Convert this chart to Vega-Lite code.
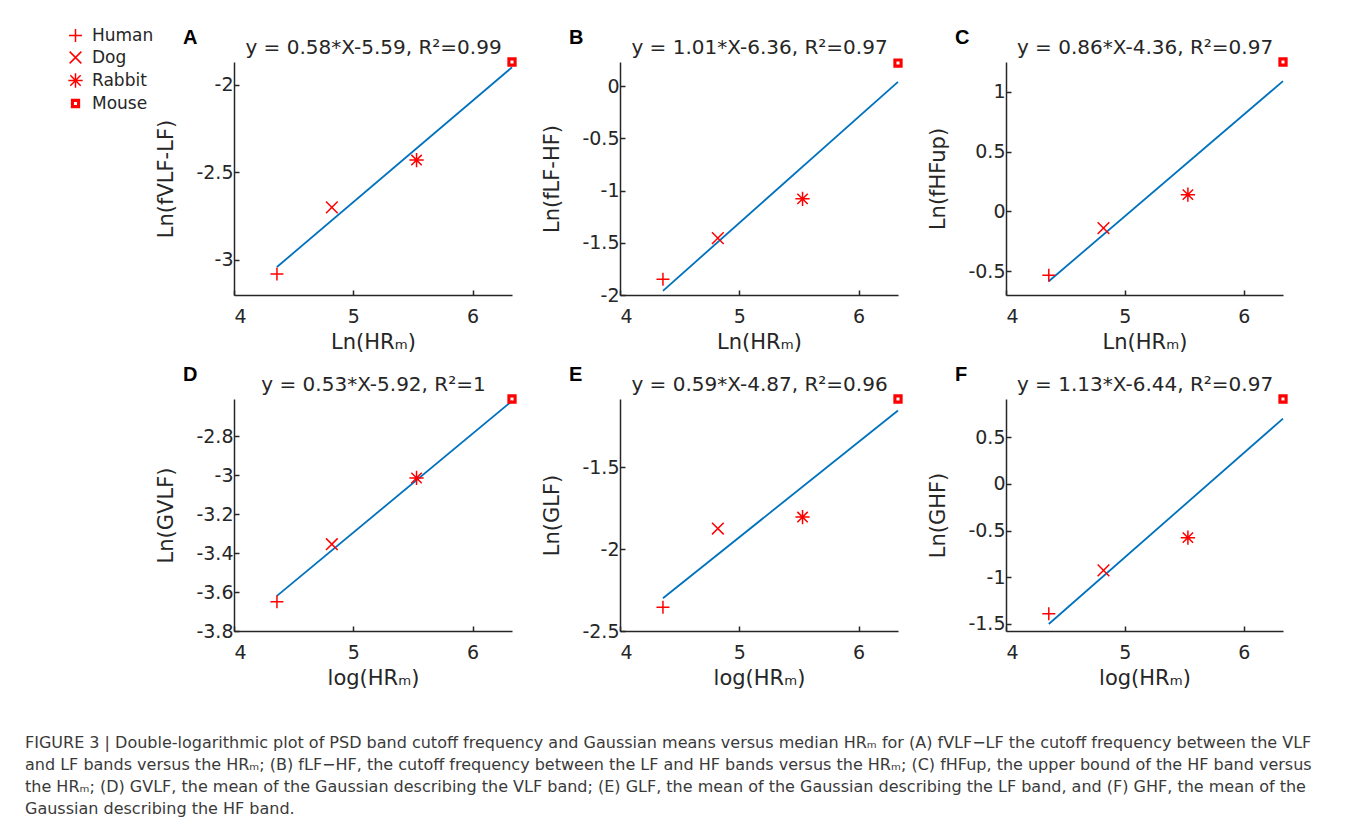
{
  "$schema": "https://vega.github.io/schema/vega-lite/v6.json",
  "background": "white",
  "padding": {"left": 25, "top": 27, "right": 5, "bottom": 5},
  "datasets": {
    "points": [
      {"panel": "A", "species": "Human", "x": 4.36, "y": -3.08},
      {"panel": "A", "species": "Dog", "x": 4.82, "y": -2.70},
      {"panel": "A", "species": "Rabbit", "x": 5.53, "y": -2.43},
      {"panel": "A", "species": "Mouse", "x": 6.33, "y": -1.87},
      {"panel": "B", "species": "Human", "x": 4.36, "y": -1.85},
      {"panel": "B", "species": "Dog", "x": 4.82, "y": -1.455},
      {"panel": "B", "species": "Rabbit", "x": 5.53, "y": -1.08},
      {"panel": "B", "species": "Mouse", "x": 6.33, "y": 0.22},
      {"panel": "C", "species": "Human", "x": 4.36, "y": -0.535},
      {"panel": "C", "species": "Dog", "x": 4.82, "y": -0.14},
      {"panel": "C", "species": "Rabbit", "x": 5.53, "y": 0.14},
      {"panel": "C", "species": "Mouse", "x": 6.33, "y": 1.25},
      {"panel": "D", "species": "Human", "x": 4.36, "y": -3.65},
      {"panel": "D", "species": "Dog", "x": 4.82, "y": -3.355},
      {"panel": "D", "species": "Rabbit", "x": 5.53, "y": -3.015},
      {"panel": "D", "species": "Mouse", "x": 6.33, "y": -2.61},
      {"panel": "E", "species": "Human", "x": 4.36, "y": -2.355},
      {"panel": "E", "species": "Dog", "x": 4.82, "y": -1.875},
      {"panel": "E", "species": "Rabbit", "x": 5.53, "y": -1.805},
      {"panel": "E", "species": "Mouse", "x": 6.33, "y": -1.085},
      {"panel": "F", "species": "Human", "x": 4.36, "y": -1.39},
      {"panel": "F", "species": "Dog", "x": 4.82, "y": -0.925},
      {"panel": "F", "species": "Rabbit", "x": 5.53, "y": -0.575},
      {"panel": "F", "species": "Mouse", "x": 6.33, "y": 0.91}
    ],
    "fits": [
      {"panel": "A", "x": 4.36, "y": -3.04},
      {"panel": "A", "x": 6.33, "y": -1.90},
      {"panel": "B", "x": 4.36, "y": -1.96},
      {"panel": "B", "x": 6.33, "y": 0.04},
      {"panel": "C", "x": 4.36, "y": -0.585},
      {"panel": "C", "x": 6.33, "y": 1.09},
      {"panel": "D", "x": 4.36, "y": -3.62},
      {"panel": "D", "x": 6.33, "y": -2.62},
      {"panel": "E", "x": 4.36, "y": -2.30},
      {"panel": "E", "x": 6.33, "y": -1.155},
      {"panel": "F", "x": 4.36, "y": -1.50},
      {"panel": "F", "x": 6.33, "y": 0.70}
    ]
  },
  "title": {
    "text": [
      "FIGURE 3 | Double-logarithmic plot of PSD band cutoff frequency and Gaussian means versus median HRₘ for (A) fVLF−LF the cutoff frequency between the VLF",
      "and LF bands versus the HRₘ; (B) fLF−HF, the cutoff frequency between the LF and HF bands versus the HRₘ; (C) fHFup, the upper bound of the HF band versus",
      "the HRₘ; (D) GVLF, the mean of the Gaussian describing the VLF band; (E) GLF, the mean of the Gaussian describing the LF band, and (F) GHF, the mean of the",
      "Gaussian describing the HF band."
    ],
    "orient": "bottom",
    "anchor": "start",
    "frame": "bounds",
    "font": "DejaVu Sans",
    "fontSize": 16,
    "fontWeight": "normal",
    "color": "#3a3a3a",
    "lineHeight": 22,
    "offset": 47,
    "dx": -42,
    "dy": 0,
    "baseline": "top"
  },
  "columns": 3,
  "spacing": {"row": 104, "column": 108},
  "bounds": "flush",
  "concat": [
    {
      "width": 278, "height": 233,
      "title": {"text": "A"},
      "resolve": {"axis": {"x": "independent"}},
      "layer": [
        {"data": {"name": "fits"}, "transform": [{"filter": "datum.panel === 'A'"}],
         "mark": {"type": "line", "color": "#0072BD", "strokeWidth": 1.8},
         "encoding": {
           "x": {"field": "x", "type": "quantitative", "scale": {"domain": [4, 6.33], "nice": false, "zero": false}, "axis": {"values": [4, 5, 6], "title": "Ln(HRₘ)"}},
           "y": {"field": "y", "type": "quantitative", "scale": {"domain": [-3.2, -1.87], "nice": false, "zero": false}, "axis": {"values": [-3, -2.5, -2], "title": "Ln(fVLF-LF)"}}
         }},
        {"data": {"name": "points"}, "transform": [{"filter": "datum.panel === 'A'"}],
         "mark": {"type": "point", "filled": false, "color": "#ff0000", "strokeWidth": 1.5, "size": 169, "opacity": 1},
         "encoding": {
           "x": {"field": "x", "type": "quantitative", "axis": {"orient": "top", "title": "y = 0.58*X-5.59, R²=0.99", "labels": false, "ticks": false, "domain": false, "titleFontSize": 20, "titlePadding": 5}},
           "y": {"field": "y", "type": "quantitative"},
           "shape": {"field": "species", "type": "nominal",
             "scale": {"domain": ["Human", "Dog", "Rabbit", "Mouse"], "range": ["M-1,0L1,0M0,-1L0,1", "M-0.9,-0.9L0.9,0.9M-0.9,0.9L0.9,-0.9", "M-1.1,0L1.1,0M0,-1.1L0,1.1M-0.8,-0.8L0.8,0.8M-0.8,0.8L0.8,-0.8", "M-0.6,-0.6L0.6,-0.6L0.6,0.6L-0.6,0.6ZM-0.47,-0.47L0.47,-0.47L0.47,0.47L-0.47,0.47ZM-0.35,-0.35L0.35,-0.35L0.35,0.35L-0.35,0.35Z"]},
             "legend": {"orient": "none", "legendX": -167, "legendY": -35, "title": null, "labelFont": "DejaVu Sans", "labelFontSize": 17, "labelColor": "#262626", "symbolSize": 169, "symbolStrokeWidth": 1.5, "symbolStrokeColor": "#ff0000", "rowPadding": 3, "labelOffset": 8, "padding": 0}}
         }}
      ]
    },
    {
      "width": 278, "height": 233,
      "title": {"text": "B"},
      "resolve": {"axis": {"x": "independent"}},
      "layer": [
        {"data": {"name": "fits"}, "transform": [{"filter": "datum.panel === 'B'"}],
         "mark": {"type": "line", "color": "#0072BD", "strokeWidth": 1.8},
         "encoding": {
           "x": {"field": "x", "type": "quantitative", "scale": {"domain": [4, 6.33], "nice": false, "zero": false}, "axis": {"values": [4, 5, 6], "title": "Ln(HRₘ)"}},
           "y": {"field": "y", "type": "quantitative", "scale": {"domain": [-2, 0.23], "nice": false, "zero": false}, "axis": {"values": [-2, -1.5, -1, -0.5, 0], "title": "Ln(fLF-HF)"}}
         }},
        {"data": {"name": "points"}, "transform": [{"filter": "datum.panel === 'B'"}],
         "mark": {"type": "point", "filled": false, "color": "#ff0000", "strokeWidth": 1.5, "size": 169, "opacity": 1},
         "encoding": {
           "x": {"field": "x", "type": "quantitative", "axis": {"orient": "top", "title": "y = 1.01*X-6.36, R²=0.97", "labels": false, "ticks": false, "domain": false, "titleFontSize": 20, "titlePadding": 5}},
           "y": {"field": "y", "type": "quantitative"},
           "shape": {"field": "species", "type": "nominal",
             "scale": {"domain": ["Human", "Dog", "Rabbit", "Mouse"], "range": ["M-1,0L1,0M0,-1L0,1", "M-0.9,-0.9L0.9,0.9M-0.9,0.9L0.9,-0.9", "M-1.1,0L1.1,0M0,-1.1L0,1.1M-0.8,-0.8L0.8,0.8M-0.8,0.8L0.8,-0.8", "M-0.6,-0.6L0.6,-0.6L0.6,0.6L-0.6,0.6ZM-0.47,-0.47L0.47,-0.47L0.47,0.47L-0.47,0.47ZM-0.35,-0.35L0.35,-0.35L0.35,0.35L-0.35,0.35Z"]}}
         }}
      ]
    },
    {
      "width": 277, "height": 233,
      "title": {"text": "C"},
      "resolve": {"axis": {"x": "independent"}},
      "layer": [
        {"data": {"name": "fits"}, "transform": [{"filter": "datum.panel === 'C'"}],
         "mark": {"type": "line", "color": "#0072BD", "strokeWidth": 1.8},
         "encoding": {
           "x": {"field": "x", "type": "quantitative", "scale": {"domain": [4, 6.33], "nice": false, "zero": false}, "axis": {"values": [4, 5, 6], "title": "Ln(HRₘ)"}},
           "y": {"field": "y", "type": "quantitative", "scale": {"domain": [-0.7, 1.25], "nice": false, "zero": false}, "axis": {"values": [-0.5, 0, 0.5, 1], "title": "Ln(fHFup)"}}
         }},
        {"data": {"name": "points"}, "transform": [{"filter": "datum.panel === 'C'"}],
         "mark": {"type": "point", "filled": false, "color": "#ff0000", "strokeWidth": 1.5, "size": 169, "opacity": 1},
         "encoding": {
           "x": {"field": "x", "type": "quantitative", "axis": {"orient": "top", "title": "y = 0.86*X-4.36, R²=0.97", "labels": false, "ticks": false, "domain": false, "titleFontSize": 20, "titlePadding": 5}},
           "y": {"field": "y", "type": "quantitative"},
           "shape": {"field": "species", "type": "nominal",
             "scale": {"domain": ["Human", "Dog", "Rabbit", "Mouse"], "range": ["M-1,0L1,0M0,-1L0,1", "M-0.9,-0.9L0.9,0.9M-0.9,0.9L0.9,-0.9", "M-1.1,0L1.1,0M0,-1.1L0,1.1M-0.8,-0.8L0.8,0.8M-0.8,0.8L0.8,-0.8", "M-0.6,-0.6L0.6,-0.6L0.6,0.6L-0.6,0.6ZM-0.47,-0.47L0.47,-0.47L0.47,0.47L-0.47,0.47ZM-0.35,-0.35L0.35,-0.35L0.35,0.35L-0.35,0.35Z"]}}
         }}
      ]
    },
    {
      "width": 278, "height": 232,
      "title": {"text": "D"},
      "resolve": {"axis": {"x": "independent"}},
      "layer": [
        {"data": {"name": "fits"}, "transform": [{"filter": "datum.panel === 'D'"}],
         "mark": {"type": "line", "color": "#0072BD", "strokeWidth": 1.8},
         "encoding": {
           "x": {"field": "x", "type": "quantitative", "scale": {"domain": [4, 6.33], "nice": false, "zero": false}, "axis": {"values": [4, 5, 6], "title": "log(HRₘ)"}},
           "y": {"field": "y", "type": "quantitative", "scale": {"domain": [-3.8, -2.61], "nice": false, "zero": false}, "axis": {"values": [-3.8, -3.6, -3.4, -3.2, -3, -2.8], "title": "Ln(GVLF)"}}
         }},
        {"data": {"name": "points"}, "transform": [{"filter": "datum.panel === 'D'"}],
         "mark": {"type": "point", "filled": false, "color": "#ff0000", "strokeWidth": 1.5, "size": 169, "opacity": 1},
         "encoding": {
           "x": {"field": "x", "type": "quantitative", "axis": {"orient": "top", "title": "y = 0.53*X-5.92, R²=1", "labels": false, "ticks": false, "domain": false, "titleFontSize": 20, "titlePadding": 5}},
           "y": {"field": "y", "type": "quantitative"},
           "shape": {"field": "species", "type": "nominal",
             "scale": {"domain": ["Human", "Dog", "Rabbit", "Mouse"], "range": ["M-1,0L1,0M0,-1L0,1", "M-0.9,-0.9L0.9,0.9M-0.9,0.9L0.9,-0.9", "M-1.1,0L1.1,0M0,-1.1L0,1.1M-0.8,-0.8L0.8,0.8M-0.8,0.8L0.8,-0.8", "M-0.6,-0.6L0.6,-0.6L0.6,0.6L-0.6,0.6ZM-0.47,-0.47L0.47,-0.47L0.47,0.47L-0.47,0.47ZM-0.35,-0.35L0.35,-0.35L0.35,0.35L-0.35,0.35Z"]}}
         }}
      ]
    },
    {
      "width": 278, "height": 232,
      "title": {"text": "E"},
      "resolve": {"axis": {"x": "independent"}},
      "layer": [
        {"data": {"name": "fits"}, "transform": [{"filter": "datum.panel === 'E'"}],
         "mark": {"type": "line", "color": "#0072BD", "strokeWidth": 1.8},
         "encoding": {
           "x": {"field": "x", "type": "quantitative", "scale": {"domain": [4, 6.33], "nice": false, "zero": false}, "axis": {"values": [4, 5, 6], "title": "log(HRₘ)"}},
           "y": {"field": "y", "type": "quantitative", "scale": {"domain": [-2.5, -1.085], "nice": false, "zero": false}, "axis": {"values": [-2.5, -2, -1.5], "title": "Ln(GLF)"}}
         }},
        {"data": {"name": "points"}, "transform": [{"filter": "datum.panel === 'E'"}],
         "mark": {"type": "point", "filled": false, "color": "#ff0000", "strokeWidth": 1.5, "size": 169, "opacity": 1},
         "encoding": {
           "x": {"field": "x", "type": "quantitative", "axis": {"orient": "top", "title": "y = 0.59*X-4.87, R²=0.96", "labels": false, "ticks": false, "domain": false, "titleFontSize": 20, "titlePadding": 5}},
           "y": {"field": "y", "type": "quantitative"},
           "shape": {"field": "species", "type": "nominal",
             "scale": {"domain": ["Human", "Dog", "Rabbit", "Mouse"], "range": ["M-1,0L1,0M0,-1L0,1", "M-0.9,-0.9L0.9,0.9M-0.9,0.9L0.9,-0.9", "M-1.1,0L1.1,0M0,-1.1L0,1.1M-0.8,-0.8L0.8,0.8M-0.8,0.8L0.8,-0.8", "M-0.6,-0.6L0.6,-0.6L0.6,0.6L-0.6,0.6ZM-0.47,-0.47L0.47,-0.47L0.47,0.47L-0.47,0.47ZM-0.35,-0.35L0.35,-0.35L0.35,0.35L-0.35,0.35Z"]}}
         }}
      ]
    },
    {
      "width": 277, "height": 232,
      "title": {"text": "F"},
      "resolve": {"axis": {"x": "independent"}},
      "layer": [
        {"data": {"name": "fits"}, "transform": [{"filter": "datum.panel === 'F'"}],
         "mark": {"type": "line", "color": "#0072BD", "strokeWidth": 1.8},
         "encoding": {
           "x": {"field": "x", "type": "quantitative", "scale": {"domain": [4, 6.33], "nice": false, "zero": false}, "axis": {"values": [4, 5, 6], "title": "log(HRₘ)"}},
           "y": {"field": "y", "type": "quantitative", "scale": {"domain": [-1.575, 0.91], "nice": false, "zero": false}, "axis": {"values": [-1.5, -1, -0.5, 0, 0.5], "title": "Ln(GHF)"}}
         }},
        {"data": {"name": "points"}, "transform": [{"filter": "datum.panel === 'F'"}],
         "mark": {"type": "point", "filled": false, "color": "#ff0000", "strokeWidth": 1.5, "size": 169, "opacity": 1},
         "encoding": {
           "x": {"field": "x", "type": "quantitative", "axis": {"orient": "top", "title": "y = 1.13*X-6.44, R²=0.97", "labels": false, "ticks": false, "domain": false, "titleFontSize": 20, "titlePadding": 5}},
           "y": {"field": "y", "type": "quantitative"},
           "shape": {"field": "species", "type": "nominal",
             "scale": {"domain": ["Human", "Dog", "Rabbit", "Mouse"], "range": ["M-1,0L1,0M0,-1L0,1", "M-0.9,-0.9L0.9,0.9M-0.9,0.9L0.9,-0.9", "M-1.1,0L1.1,0M0,-1.1L0,1.1M-0.8,-0.8L0.8,0.8M-0.8,0.8L0.8,-0.8", "M-0.6,-0.6L0.6,-0.6L0.6,0.6L-0.6,0.6ZM-0.47,-0.47L0.47,-0.47L0.47,0.47L-0.47,0.47ZM-0.35,-0.35L0.35,-0.35L0.35,0.35L-0.35,0.35Z"]}}
         }}
      ]
    }
  ],
  "config": {
    "view": {"stroke": null},
    "font": "DejaVu Sans",
    "axis": {
      "grid": false,
      "domainColor": "#262626", "domainWidth": 1.5,
      "tickColor": "#262626", "tickWidth": 1.5, "tickSize": -5,
      "labelFont": "DejaVu Sans", "labelFontSize": 19, "labelColor": "#262626",
      "labelExpr": "datum.value < 0 ? '-' + format(-datum.value, '~g') : format(datum.value, '~g')",
      "titleFont": "DejaVu Sans", "titleFontSize": 21, "titleFontWeight": "normal", "titleColor": "#262626"
    },
    "axisX": {"labelPadding": 17, "titlePadding": 5},
    "axisY": {"labelPadding": 6, "titlePadding": 19},
    "title": {"font": "Liberation Sans", "fontSize": 20, "fontWeight": "bold", "color": "#000000", "anchor": "start", "frame": "group", "dx": -51, "offset": 0, "dy": 15, "baseline": "alphabetic"}
  }
}
